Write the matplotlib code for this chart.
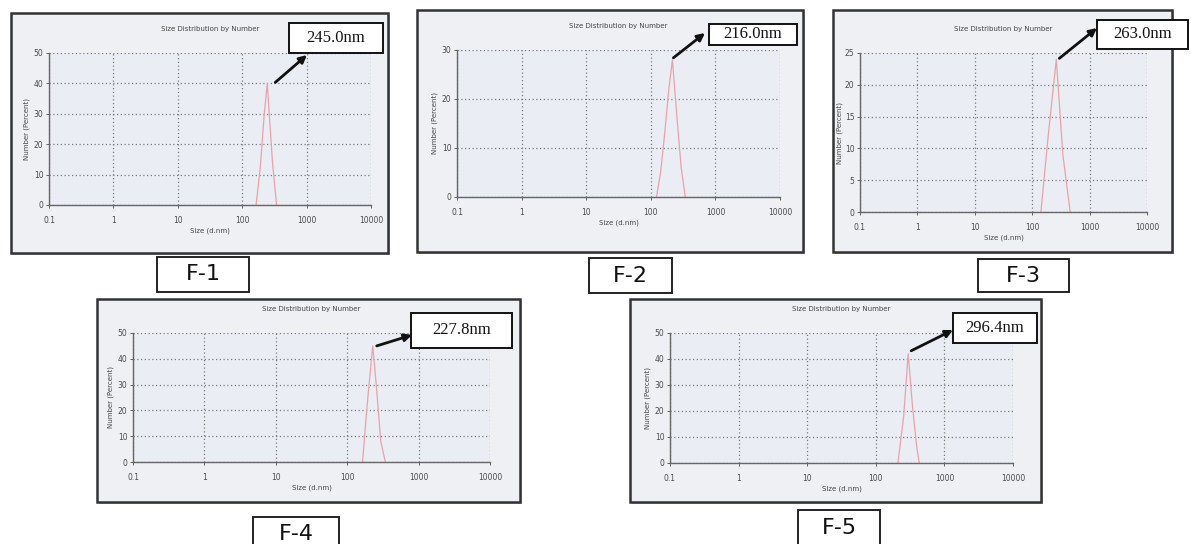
import numpy as np
import matplotlib
matplotlib.use("Agg")
import matplotlib.pyplot as plt
from matplotlib.patches import Rectangle

W, H = 1191, 544

# --- data: size (d.nm) vs number (%) ---
names = ["F-1", "F-2", "F-3", "F-4", "F-5"]
peak_labels = ["245.0nm", "216.0nm", "263.0nm", "227.8nm", "296.4nm"]
peak_size = [245.0, 216.0, 263.0, 227.8, 296.4]
ymax = [50, 30, 25, 50, 50]
ystep = [10, 10, 5, 10, 10]

f1_size = [164.2, 190.1, 220.2, 245.0, 295.3, 342.0]
f1_num = [0, 12, 30, 40, 14, 0]
f2_size = [122.4, 141.8, 164.2, 190.1, 216.0, 255.0, 295.3, 342.0]
f2_num = [0, 5, 13, 22, 28, 16, 6, 0]
f3_size = [141.8, 190.1, 263.0, 342.0, 458.7]
f3_num = [0, 12, 24, 9, 0]
f4_size = [164.2, 190.1, 227.8, 255.0, 295.3, 342.0]
f4_num = [0, 22, 45, 30, 8, 0]
f5_size = [210.0, 255.0, 296.4, 342.0, 396.1, 430.0]
f5_num = [0, 18, 42, 22, 6, 0]
sizes = [f1_size, f2_size, f3_size, f4_size, f5_size]
nums = [f1_num, f2_num, f3_num, f4_num, f5_num]
xticks = [0.1, 1, 10, 100, 1000, 10000]
xticklabels = ["0.1", "1", "10", "100", "1000", "10000"]

# --- layout in pixels (x0, y0, x1, y1), top-left origin ---
axes_px = [(49, 53, 371, 205), (457, 50, 780, 197), (860, 53, 1147, 212),
           (133, 333, 490, 462), (670, 333, 1013, 463)]
frame_px = [(11, 13, 388, 253), (417, 10, 803, 252), (833, 10, 1172, 252),
            (97, 299, 520, 502), (630, 299, 1041, 502)]
label_px = [(289, 23, 383, 53), (709, 24, 797, 45), (1097, 20, 1188, 49),
            (411, 313, 512, 348), (953, 313, 1037, 343)]
arrow_head_px = [(307, 55), (705, 33), (1097, 28), (412, 335), (953, 330)]
tail_offset_pt = [(8, 1), (1, 2), (3, 1), (4, 0), (3, 3)]
ylabel_off_px = [19, 19, 17, 19, 19]
name_px = [(157, 257, 249, 292), (589, 258, 672, 293), (978, 259, 1069, 292),
           (253, 517, 339, 552), (798, 510, 880, 547)]

fig = plt.figure(figsize=(W / 100, H / 100), dpi=100)
fig.patch.set_facecolor("white")

def frac(x, y):
    return x / W, 1 - y / H

def rect(box, **kw):
    x0, y0, x1, y1 = box
    r = Rectangle(frac(x0, y1), (x1 - x0) / W, (y1 - y0) / H,
                  transform=fig.transFigure, figure=fig, **kw)
    fig.patches.append(r)

for i in range(5):
    # outer frame of the screenshot with its soft shadow
    x0, y0, x1, y1 = frame_px[i]
    rect((x0 + 2, y0 + 2, x1 + 2, y1 + 2), facecolor="#bbbbbb", edgecolor="none", zorder=0)
    rect(frame_px[i], facecolor="#eef0f4", edgecolor="#333333", lw=1.8, zorder=1)

    ax0, ay0, ax1, ay1 = axes_px[i]
    fx, fy = frac(ax0, ay1)
    ax = fig.add_axes([fx, fy, (ax1 - ax0) / W, (ay1 - ay0) / H], zorder=2)
    ax.set_facecolor("#eaedf3")
    ax.plot(sizes[i], nums[i], color="#e8a3a8", lw=0.9)
    ax.set_xscale("log")
    ax.set_xlim(0.1, 10000)
    ax.set_ylim(0, ymax[i])
    ax.set_xticks(xticks)
    ax.set_xticklabels(xticklabels)
    ax.minorticks_off()
    ax.set_yticks(np.arange(0, ymax[i] + 1, ystep[i]))
    ax.tick_params(labelsize=5.5, colors="#4a4a4a", length=2, width=0.6, pad=2)
    ax.tick_params(axis="x", pad=6)
    ax.grid(True, ls=(0, (1, 2)), color="#7a7a7a", lw=0.9)
    for s in ["top", "right"]:
        ax.spines[s].set_visible(False)
    for s in ["left", "bottom"]:
        ax.spines[s].set_color("#666666")
        ax.spines[s].set_linewidth(1.0)
    ax.set_title("Size Distribution by Number", fontsize=5, color="#444444", pad=16)
    ax.set_xlabel("Size (d.nm)", fontsize=5, color="#444444", labelpad=2)
    ax.set_ylabel("Number (Percent)", fontsize=5, color="#444444")
    ax.yaxis.set_label_coords(-ylabel_off_px[i] / (ax1 - ax0), 0.5)

    # peak value box and arrow
    lx0, ly0, lx1, ly1 = label_px[i]
    rect(label_px[i], facecolor="white", edgecolor="#111111", lw=1.4, zorder=5)
    cx, cy = frac((lx0 + lx1) / 2, (ly0 + ly1) / 2)
    fig.text(cx, cy, peak_labels[i], ha="center", va="center", fontsize=12,
             family="Liberation Serif", color="#111111", zorder=6)
    pk = nums[i][sizes[i].index(peak_size[i])]
    tail = ax.transData.transform((peak_size[i], pk))
    dx, dy = tail_offset_pt[i]
    tail_fig = fig.transFigure.inverted().transform((tail[0] + dx, tail[1] + dy))
    ax.annotate("", xy=frac(*arrow_head_px[i]), xycoords="figure fraction",
                xytext=tail_fig, textcoords="figure fraction",
                arrowprops=dict(arrowstyle="-|>", color="#111111", lw=2.0,
                                mutation_scale=11, shrinkA=0, shrinkB=0),
                annotation_clip=False, zorder=7)

    # sample name box
    nx0, ny0, nx1, ny1 = name_px[i]
    rect(name_px[i], facecolor="white", edgecolor="#222222", lw=1.4, zorder=3)
    cx, cy = frac((nx0 + nx1) / 2, (ny0 + ny1) / 2)
    fig.text(cx, cy, names[i], ha="center", va="center", fontsize=16,
             family="DejaVu Sans", color="#111111", zorder=4)

fig.savefig("out.png", dpi=100)
